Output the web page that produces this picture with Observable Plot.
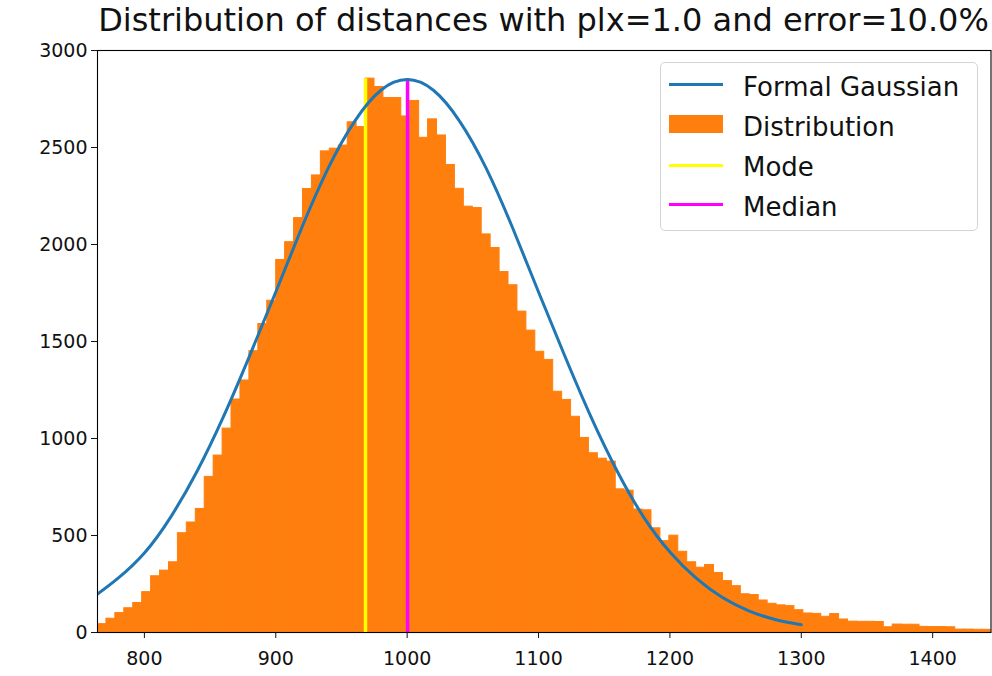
<!DOCTYPE html>
<html>
<head>
<meta charset="utf-8">
<script src="https://cdn.jsdelivr.net/npm/d3@7"></script>
<script src="https://cdn.jsdelivr.net/npm/@observablehq/plot@0.6"></script>
<style>
  html, body { margin: 0; padding: 0; background: white; }
  #root { position: relative; width: 992px; height: 676px; font-family: "DejaVu Sans", sans-serif; }
  #title { position: absolute; left: 97px; width: 893px; top: 4px; height: 32px; line-height: 32px;
           font-size: 32px; text-align: center; color: #111; white-space: nowrap; }
  #legend { position: absolute; left: 660px; top: 62px; width: 316px; height: 167px;
            border: 1px solid #d4d4d4; border-radius: 5px; background: rgba(255,255,255,0.8); }
  .lg-text { position: absolute; left: 743px; font-size: 26px; line-height: 26px; color: #111; white-space: nowrap; }
  .lg-line { position: absolute; left: 669px; width: 54px; height: 3px; }
  .lg-patch { position: absolute; left: 669px; width: 54px; height: 18px; }
</style>
</head>
<body>
<div id="root"></div>
<script>
// ---- data ----
const titleText = "Distribution of distances with plx=1.0 and error=10.0%";
const histRange = [764.3, 1444.4];   // histogram bin range (distance)
const binCount = 100;
const counts = [
  43, 71, 100, 125, 152, 208, 290, 319, 362, 512,
  567, 637, 802, 912, 1051, 1201, 1299, 1450, 1590, 1710,
  1920, 2012, 2136, 2286, 2356, 2480, 2494, 2510, 2630, 2605,
  2855, 2812, 2755, 2755, 2660, 2740, 2550, 2645, 2562, 2410,
  2287, 2195, 2188, 2052, 1982, 1858, 1790, 1654, 1556, 1447,
  1405, 1241, 1199, 1112, 1003, 924, 896, 881, 738, 731,
  634, 630, 537, 471, 499, 416, 362, 334, 348, 307,
  265, 239, 197, 193, 165, 148, 140, 136, 115, 98,
  96, 81, 95, 67, 56, 55, 55, 54, 27, 41,
  40, 40, 29, 28, 28, 27, 15, 15, 14, 14
];
const gaussX = [764.3, 780, 800, 820, 840, 860, 880, 900, 920, 940, 960, 980, 1000,
                1020, 1040, 1060, 1080, 1100, 1120, 1140, 1160, 1180, 1200, 1220, 1240, 1260, 1280, 1300];
const gaussY = [198, 280, 410, 595, 830, 1110, 1425, 1755, 2090, 2395, 2635, 2795, 2850,
                2795, 2635, 2395, 2090, 1755, 1425, 1110, 830, 595, 415, 280, 180, 112, 67, 40];
const modeValue = 968.3;
const medianValue = 1000.3;
const xTicks = [800, 900, 1000, 1100, 1200, 1300, 1400];
const yTicks = [0, 500, 1000, 1500, 2000, 2500, 3000];
const legendLabels = ["Formal Gaussian", "Distribution", "Mode", "Median"];
const colors = { gauss: "#1f77b4", hist: "#ff7f0e", mode: "#ffff00", median: "#ff00ff" };

// ---- derived tables ----
const binWidth = (histRange[1] - histRange[0]) / binCount;
const bars = counts.map((c, i) => ({ x1: histRange[0] + i * binWidth, x2: histRange[0] + (i + 1) * binWidth, y: c }));
const maxCount = d3.max(counts);
const gauss = gaussX.map((x, i) => ({ x, y: gaussY[i] }));
const vlines = [
  { x: modeValue, y1: 0, y2: maxCount, c: colors.mode },
  { x: medianValue, y1: 0, y2: maxCount, c: colors.median }
];

const chart = Plot.plot({
  width: 992,
  height: 676,
  marginTop: 50,
  marginBottom: 44,
  marginLeft: 97,
  marginRight: 1.5,
  style: { fontFamily: "DejaVu Sans, sans-serif", fontSize: "19px", color: "#111", background: "white" },
  x: { domain: histRange, label: null },
  y: { domain: [0, 3000], label: null },
  marks: [
    Plot.rectY(bars, { x1: "x1", x2: "x2", y: "y", fill: colors.hist, stroke: colors.hist, strokeWidth: 1, inset: 0, clip: true }),
    Plot.ruleX(vlines, { x: "x", y1: "y1", y2: "y2", stroke: "c", strokeWidth: 3.5 }),
    Plot.line(gauss, { x: "x", y: "y", stroke: colors.gauss, strokeWidth: 3, curve: "natural", clip: true }),
    Plot.frame({ stroke: "#000", strokeWidth: 1.1 }),
    Plot.axisX({ ticks: xTicks, tickFormat: "d", tickSize: 6, tickPadding: 13, fontSize: 19, label: null }),
    Plot.axisY({ ticks: yTicks, tickFormat: "d", tickSize: 6, tickPadding: 4, fontSize: 19, label: null })
  ]
});

const root = document.getElementById("root");
root.appendChild(chart);
chart.style.position = "absolute";
chart.style.left = "0px";
chart.style.top = "0px";

const title = document.createElement("div");
title.id = "title";
title.textContent = titleText;
root.appendChild(title);

const legend = document.createElement("div");
legend.id = "legend";
root.appendChild(legend);

const rowsTop = [73.5, 113.8, 154.1, 194.4];
const handleCenter = [84.3, 124, 165, 204.3];
const handleColor = [colors.gauss, colors.hist, colors.mode, colors.median];
legendLabels.forEach((lab, i) => {
  const h = document.createElement("div");
  if (i === 1) {
    h.className = "lg-patch";
    h.style.top = (handleCenter[i] - 9) + "px";
  } else {
    h.className = "lg-line";
    h.style.top = (handleCenter[i] - 1.5) + "px";
  }
  h.style.background = handleColor[i];
  root.appendChild(h);
  const t = document.createElement("div");
  t.className = "lg-text";
  t.style.top = rowsTop[i] + "px";
  t.textContent = lab;
  root.appendChild(t);
});
</script>
</body>
</html>
